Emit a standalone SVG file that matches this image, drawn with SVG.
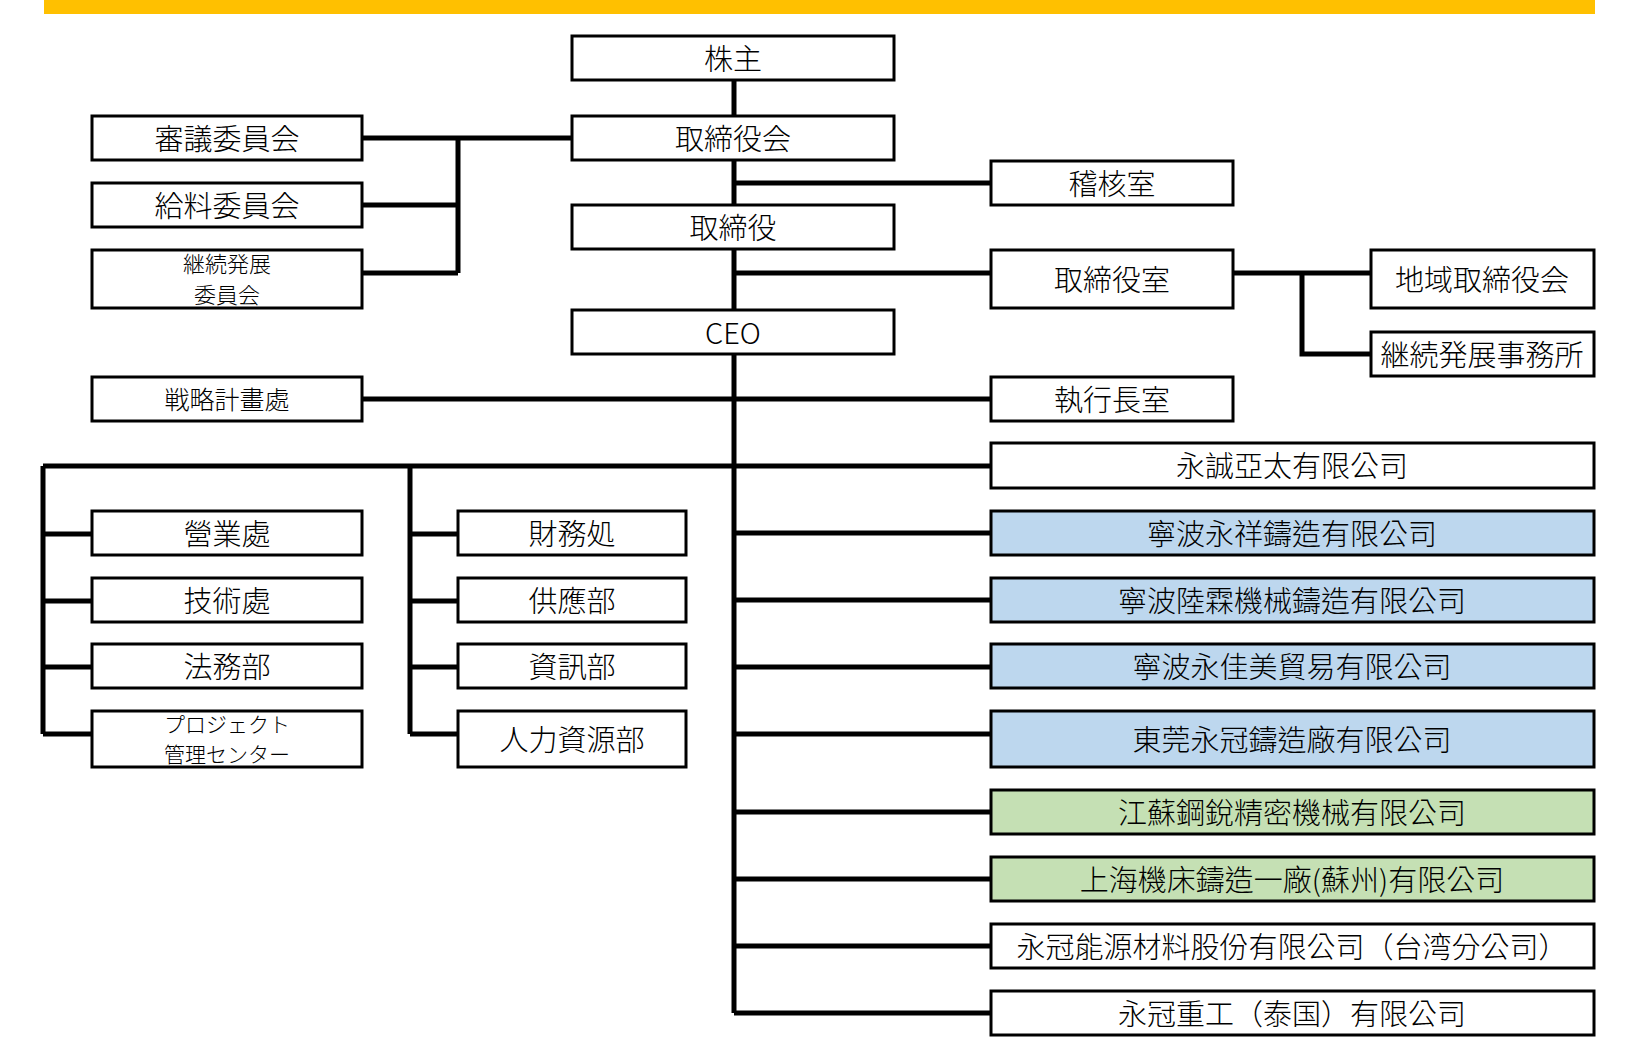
<svg xmlns="http://www.w3.org/2000/svg" width="1634" height="1059" viewBox="0 0 1634 1059">
<style>
.b{fill:#fff;stroke:#000;stroke-width:3}
.blue{fill:#BDD7EE}
.green{fill:#C5E0B4}
text{font-family:"Noto Sans CJK JP","Noto Sans CJK TC",sans-serif;font-size:29px;font-weight:300;fill:#000;text-anchor:middle;dominant-baseline:central}
.tc{font-family:"Noto Sans CJK TC","Noto Sans CJK JP",sans-serif}
.s{font-size:25px}
.s2{font-size:22px}
.xs{font-size:21px}
.c{fill:none;stroke:#000;stroke-width:5}
</style>
<rect x="44" y="0" width="1551" height="14" fill="#FFC000"/>
<g id="connectors" class="c">
<path d="M734 80V116M734 160V205M734 249V310M734 354V1013"/>
<path d="M362 138H572M458 138V273M362 205H458M362 273H458"/>
<path d="M734 183H991M734 273H991M1233 273H1371M1302 273V354H1371"/>
<path d="M362 399H991"/>
<path d="M43 466H991M43 466V734M43 534H92M43 601H92M43 667H92M43 734H92"/>
<path d="M410 466V734M410 534H458M410 601H458M410 667H458M410 734H458"/>
<path d="M734 533H991M734 600H991M734 667H991M734 734H991M734 812H991M734 879H991M734 946H991M734 1013H991"/>
</g>
<g id="n1"><rect class="b" x="572" y="36" width="322" height="44"/><text x="733" y="57">株主</text></g>
<g id="n2"><rect class="b" x="572" y="116" width="322" height="44"/><text x="733" y="137">取締役会</text></g>
<g id="n3"><rect class="b" x="572" y="205" width="322" height="44"/><text x="733" y="226">取締役</text></g>
<g id="n4"><rect class="b" x="572" y="310" width="322" height="44"/><text x="733" y="331">CEO</text></g>
<g id="n5"><rect class="b" x="92" y="116" width="270" height="44"/><text x="227" y="137">審議委員会</text></g>
<g id="n6"><rect class="b" x="92" y="183" width="270" height="44"/><text x="227" y="204">給料委員会</text></g>
<g id="n7"><rect class="b" x="92" y="250" width="270" height="58"/><text class="s2" x="227" y="262"><tspan x="227" y="262">継続発展</tspan><tspan x="227" y="293">委員会</tspan></text></g>
<g id="n8"><rect class="b" x="92" y="377" width="270" height="44"/><text class="s" x="227" y="398">戦略計畫處</text></g>
<g id="n9"><rect class="b" x="991" y="161" width="242" height="44"/><text x="1112" y="182">稽核室</text></g>
<g id="n10"><rect class="b" x="991" y="250" width="242" height="58"/><text x="1112" y="278">取締役室</text></g>
<g id="n11"><rect class="b" x="1371" y="250" width="223" height="58"/><text x="1482" y="278">地域取締役会</text></g>
<g id="n12"><rect class="b" x="1371" y="332" width="223" height="44"/><text x="1482" y="353">継続発展事務所</text></g>
<g id="n13"><rect class="b" x="991" y="377" width="242" height="44"/><text x="1112" y="398">執行長室</text></g>
<g id="n14"><rect class="b" x="991" y="443" width="603" height="45"/><text class="tc" x="1292" y="464">永誠亞太有限公司</text></g>
<g id="n15"><rect class="b blue" x="991" y="511" width="603" height="44"/><text class="tc" x="1292" y="532">寧波永祥鑄造有限公司</text></g>
<g id="n16"><rect class="b blue" x="991" y="578" width="603" height="44"/><text class="tc" x="1292" y="599">寧波陸霖機械鑄造有限公司</text></g>
<g id="n17"><rect class="b blue" x="991" y="644" width="603" height="44"/><text class="tc" x="1292" y="665">寧波永佳美貿易有限公司</text></g>
<g id="n18"><rect class="b blue" x="991" y="711" width="603" height="56"/><text class="tc" x="1292" y="738">東莞永冠鑄造廠有限公司</text></g>
<g id="n19"><rect class="b green" x="991" y="790" width="603" height="44"/><text class="tc" x="1292" y="811">江蘇鋼銳精密機械有限公司</text></g>
<g id="n20"><rect class="b green" x="991" y="857" width="603" height="44"/><text class="tc" x="1292" y="878">上海機床鑄造一廠(蘇州)有限公司</text></g>
<g id="n21"><rect class="b" x="991" y="924" width="603" height="44"/><text class="tc" x="1292" y="945">永冠能源材料股份有限公司（台湾分公司）</text></g>
<g id="n22"><rect class="b" x="991" y="991" width="603" height="44"/><text class="tc" x="1292" y="1012">永冠重工（泰国）有限公司</text></g>
<g id="n23"><rect class="b" x="92" y="511" width="270" height="44"/><text x="227" y="532">營業處</text></g>
<g id="n24"><rect class="b" x="92" y="578" width="270" height="44"/><text x="227" y="599">技術處</text></g>
<g id="n25"><rect class="b" x="92" y="644" width="270" height="44"/><text x="227" y="665">法務部</text></g>
<g id="n26"><rect class="b" x="92" y="711" width="270" height="56"/><text class="xs" x="227" y="722.5"><tspan x="227" y="722.5">プロジェクト</tspan><tspan x="227" y="753">管理センター</tspan></text></g>
<g id="n27"><rect class="b" x="458" y="511" width="228" height="44"/><text x="572" y="532">財務処</text></g>
<g id="n28"><rect class="b" x="458" y="578" width="228" height="44"/><text x="572" y="599">供應部</text></g>
<g id="n29"><rect class="b" x="458" y="644" width="228" height="44"/><text x="572" y="665">資訊部</text></g>
<g id="n30"><rect class="b" x="458" y="711" width="228" height="56"/><text x="572" y="738">人力資源部</text></g>
</svg>
